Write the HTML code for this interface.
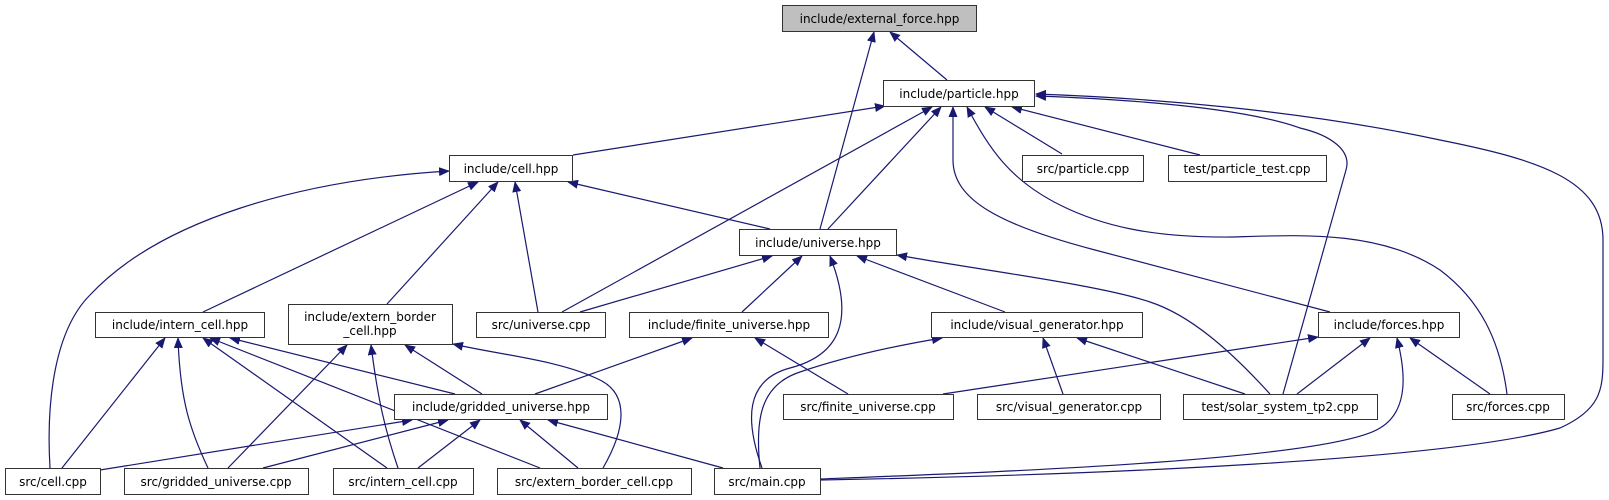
<!DOCTYPE html>
<html><head><meta charset="utf-8"><style>
html,body{margin:0;padding:0;background:#fff;}
svg{display:block;}
text{font-family:"DejaVu Sans","Liberation Sans",sans-serif;font-size:12px;fill:#000;}
</style></head><body>
<svg width="1609" height="500" viewBox="0 0 1609 500" xmlns="http://www.w3.org/2000/svg">
<defs><marker id="a" markerUnits="userSpaceOnUse" markerWidth="11" markerHeight="9" refX="10" refY="4.5" orient="auto"><path d="M0,0 L11,4.5 L0,9 z" fill="#191970"/></marker></defs>
<g fill="none" stroke="#191970" stroke-width="1.2" marker-end="url(#a)">
<path d="M947,80 L890,32"/>
<path d="M820,229 L874,32"/>
<path d="M573,155 L885,106"/>
<path d="M562,312 L932,107"/>
<path d="M828,229 L941,107"/>
<path d="M1330,312 L1095,250 C1000,225 953,200 953,160 L953,107"/>
<path d="M1507,394 C1500,340 1480,300 1440,270 C1380,230 1300,235 1233,237 C1150,238 1100,225 1060,205 C1010,180 990,150 967,107"/>
<path d="M1062,154 L985,107"/>
<path d="M1200,155 L1012,107"/>
<path d="M1283,394 L1346,170 C1352,150 1330,135 1300,128 C1250,110 1150,100 1036,96"/>
<path d="M820,480 C1100,475 1450,460 1560,428 C1600,410 1603,390 1603,360 L1603,240 C1603,180 1540,160 1440,140 C1300,110 1150,98 1036,94"/>
<path d="M203,312 L478,182"/>
<path d="M387,304 L498,182"/>
<path d="M50,468 C46,400 55,330 90,295 C160,220 300,180 449,171"/>
<path d="M538,312 L515,182"/>
<path d="M770,229 L568,182"/>
<path d="M580,312 L772,256"/>
<path d="M742,312 L802,256"/>
<path d="M762,468 C745,420 745,380 790,368 C840,355 855,320 830,256"/>
<path d="M1005,312 L857,256"/>
<path d="M1270,394 C1230,350 1190,315 1150,302 C1100,285 980,270 897,255"/>
<path d="M62,468 L165,338"/>
<path d="M208,468 C190,430 180,400 178,338"/>
<path d="M387,468 L203,338"/>
<path d="M540,468 L210,338"/>
<path d="M455,394 L230,338"/>
<path d="M228,468 L347,345"/>
<path d="M398,468 C385,430 378,400 371,345"/>
<path d="M482,394 L405,345"/>
<path d="M603,468 C625,430 630,395 600,380 C560,360 500,355 453,344"/>
<path d="M535,394 L692,338"/>
<path d="M100,470 L412,420"/>
<path d="M263,468 L448,420"/>
<path d="M418,468 L480,420"/>
<path d="M578,468 L520,420"/>
<path d="M723,468 L548,420"/>
<path d="M848,394 L755,338"/>
<path d="M760,468 C755,420 760,385 800,372 C850,355 900,345 942,338"/>
<path d="M1063,394 L1043,338"/>
<path d="M1245,394 L1077,338"/>
<path d="M943,394 L1318,337"/>
<path d="M1297,394 L1370,338"/>
<path d="M820,479 C1000,472 1330,460 1380,428 C1410,410 1405,370 1397,338"/>
<path d="M1490,394 L1410,338"/>
</g>
<g stroke="#333" stroke-width="1">
<rect x="782.5" y="5.5" width="194" height="26" fill="#bfbfbf"/>
<rect x="883.5" y="80.5" width="151" height="26" fill="#fff"/>
<rect x="449.5" y="155.5" width="123" height="26" fill="#fff"/>
<rect x="1022.5" y="155.5" width="121" height="26" fill="#fff"/>
<rect x="1168.5" y="155.5" width="158" height="26" fill="#fff"/>
<rect x="739.5" y="229.5" width="157" height="26" fill="#fff"/>
<rect x="95.5" y="312.5" width="169" height="25" fill="#fff"/>
<rect x="288.5" y="304.5" width="164" height="40" fill="#fff"/>
<rect x="476.5" y="312.5" width="129" height="25" fill="#fff"/>
<rect x="629.5" y="312.5" width="199" height="25" fill="#fff"/>
<rect x="931.5" y="312.5" width="211" height="25" fill="#fff"/>
<rect x="1318.5" y="312.5" width="141" height="25" fill="#fff"/>
<rect x="394.5" y="394.5" width="213" height="25" fill="#fff"/>
<rect x="783.5" y="394.5" width="170" height="25" fill="#fff"/>
<rect x="977.5" y="394.5" width="183" height="25" fill="#fff"/>
<rect x="1183.5" y="394.5" width="194" height="25" fill="#fff"/>
<rect x="1452.5" y="394.5" width="112" height="25" fill="#fff"/>
<rect x="5.5" y="468.5" width="95" height="26" fill="#fff"/>
<rect x="124.5" y="468.5" width="184" height="26" fill="#fff"/>
<rect x="333.5" y="468.5" width="140" height="26" fill="#fff"/>
<rect x="497.5" y="468.5" width="194" height="26" fill="#fff"/>
<rect x="714.5" y="468.5" width="106" height="26" fill="#fff"/>
</g>
<g text-anchor="middle">
<text x="879.5" y="23">include/external_force.hpp</text>
<text x="959" y="98">include/particle.hpp</text>
<text x="511" y="173">include/cell.hpp</text>
<text x="1083" y="173">src/particle.cpp</text>
<text x="1247" y="173">test/particle_test.cpp</text>
<text x="818" y="247">include/universe.hpp</text>
<text x="180" y="329">include/intern_cell.hpp</text>
<text x="370" y="321">include/extern_border</text>
<text x="370" y="335">_cell.hpp</text>
<text x="541" y="329">src/universe.cpp</text>
<text x="729" y="329">include/finite_universe.hpp</text>
<text x="1037" y="329">include/visual_generator.hpp</text>
<text x="1389" y="329">include/forces.hpp</text>
<text x="501" y="411">include/gridded_universe.hpp</text>
<text x="868" y="411">src/finite_universe.cpp</text>
<text x="1069" y="411">src/visual_generator.cpp</text>
<text x="1280" y="411">test/solar_system_tp2.cpp</text>
<text x="1508" y="411">src/forces.cpp</text>
<text x="53" y="486">src/cell.cpp</text>
<text x="216" y="486">src/gridded_universe.cpp</text>
<text x="403" y="486">src/intern_cell.cpp</text>
<text x="594" y="486">src/extern_border_cell.cpp</text>
<text x="767" y="486">src/main.cpp</text>
</g>
</svg>
</body></html>
